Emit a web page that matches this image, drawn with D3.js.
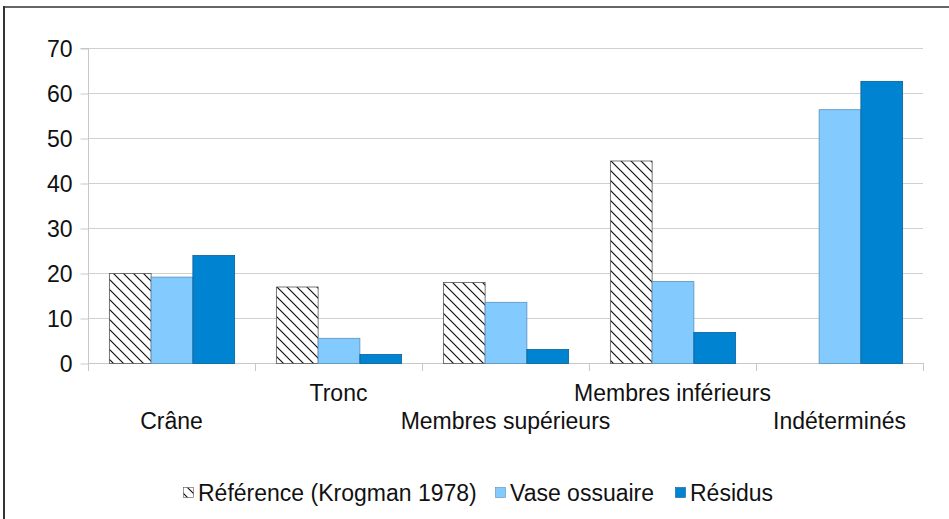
<!DOCTYPE html>
<html><head><meta charset="utf-8">
<script src="https://cdn.jsdelivr.net/npm/d3@7"></script>
<style>
html,body{margin:0;padding:0;background:#fff;}
svg{display:block;font-family:"Liberation Sans",Arial,sans-serif;}
</style></head>
<body>
<svg id="chart" width="949" height="519"></svg>
<script>
const categories = ["Crâne","Tronc","Membres supérieurs","Membres inférieurs","Indéterminés"];
const seriesNames = ["Référence (Krogman 1978)","Vase ossuaire","Résidus"];
const reference = [20, 17, 18, 45, 0];
const vase = [19.2, 5.6, 13.6, 18.2, 56.4];
const residus = [24, 2, 3.1, 6.9, 62.7];
const yTicks = [0,10,20,30,40,50,60,70];

const svg = d3.select("#chart");
const W = 949, H = 519;
const FS = 23;
const m = {left: 88, right: 26, top: 48, bottom: 156};
const x0 = d3.scaleBand().domain(categories).range([m.left, W - m.right]).paddingInner(0).paddingOuter(0);
const y = d3.scaleLinear().domain([0,70]).range([H - m.bottom, m.top]);
const x1 = d3.scaleBand().domain(seriesNames).range([0, x0.bandwidth()]).paddingInner(0).paddingOuter(0.5);

const defs = svg.append("defs");
const pat = defs.append("pattern").attr("id","hatch").attr("patternUnits","userSpaceOnUse")
  .attr("width",10).attr("height",10);
pat.append("rect").attr("width",10).attr("height",10).attr("fill","#fff");
pat.append("path").attr("d","M-2,-2 L12,12 M-2,8 L2,12 M8,-2 L12,2").attr("stroke","#111").attr("stroke-width",1.2);

// frame
svg.append("line").attr("x1",3).attr("x2",W).attr("y1",7).attr("y2",7).attr("stroke","#666").attr("stroke-width",2);
svg.append("line").attr("x1",4).attr("x2",4).attr("y1",6).attr("y2",H).attr("stroke","#333").attr("stroke-width",2);

// grid
svg.append("g").selectAll("line").data(yTicks).join("line")
  .attr("x1",m.left).attr("x2",W - m.right).attr("y1",d=>y(d)+0.5).attr("y2",d=>y(d)+0.5)
  .attr("stroke","#d0d0d0").attr("stroke-width",1);

// y axis
const yAxis = d3.axisLeft(y).tickValues(yTicks).tickSize(8).tickPadding(8);
const gy = svg.append("g").attr("transform",`translate(${m.left+0.5},0.5)`).call(yAxis);
gy.select(".domain").attr("stroke","#c8c8c8").attr("d",`M-8,${y(70)}H0V${y(0)}`);
gy.selectAll(".tick line").attr("stroke","#c8c8c8");
gy.selectAll("text").attr("font-size",FS).attr("fill","#111").attr("font-family","Liberation Sans, Arial, sans-serif").attr("dy","0.35em");

// x axis line and boundary ticks
const boundaries = categories.map(c=>x0(c)).concat([x0(categories[categories.length-1])+x0.bandwidth()]);
svg.append("line").attr("x1",m.left).attr("x2",W-m.right).attr("y1",y(0)+0.5).attr("y2",y(0)+0.5).attr("stroke","#c8c8c8");
svg.append("g").selectAll("line").data(boundaries).join("line")
  .attr("x1",d=>d+0.5).attr("x2",d=>d+0.5).attr("y1",y(0)).attr("y2",y(0)+8).attr("stroke","#c8c8c8");

// bars
const series = [
  {name: seriesNames[0], values: reference, fill: "url(#hatch)", stroke: "#555"},
  {name: seriesNames[1], values: vase, fill: "#83caff", stroke: "#5a8fb8"},
  {name: seriesNames[2], values: residus, fill: "#0084d1", stroke: "#0a5f96"}
];
series.forEach(s=>{
  svg.append("g").selectAll("rect").data(categories.map((c,i)=>({c, v:s.values[i]})).filter(d=>d.v>0)).join("rect")
    .attr("x",d=>x0(d.c)+x1(s.name)+0.5)
    .attr("y",d=>y(d.v)+0.5)
    .attr("width",x1.bandwidth())
    .attr("height",d=>y(0)-y(d.v))
    .attr("fill",s.fill).attr("stroke",s.stroke).attr("stroke-width",0.8);
});

// category labels (staggered)
svg.append("g").selectAll("text").data(categories).join("text")
  .attr("x",d=>x0(d)+x0.bandwidth()/2)
  .attr("y",(d,i)=> i%2===0 ? 429 : 401)
  .attr("text-anchor","middle").attr("font-size",FS).attr("fill","#111")
  .text(d=>d);

// legend
const legend = [
  {name: seriesNames[0], fill: "url(#hatch)", stroke:"#555", x: 183},
  {name: seriesNames[1], fill: "#83caff", stroke:"#5a8fb8", x: 495},
  {name: seriesNames[2], fill: "#0084d1", stroke:"#0a5f96", x: 675}
];
const lg = svg.append("g");
legend.forEach(l=>{
  lg.append("rect").attr("x",l.x+0.5).attr("y",487.5).attr("width",10).attr("height",10)
    .attr("fill",l.fill).attr("stroke",l.stroke).attr("stroke-width",0.6);
  lg.append("text").attr("x",l.x+15).attr("y",501).attr("font-size",FS).attr("fill","#111").text(l.name);
});
</script>
</body></html>
